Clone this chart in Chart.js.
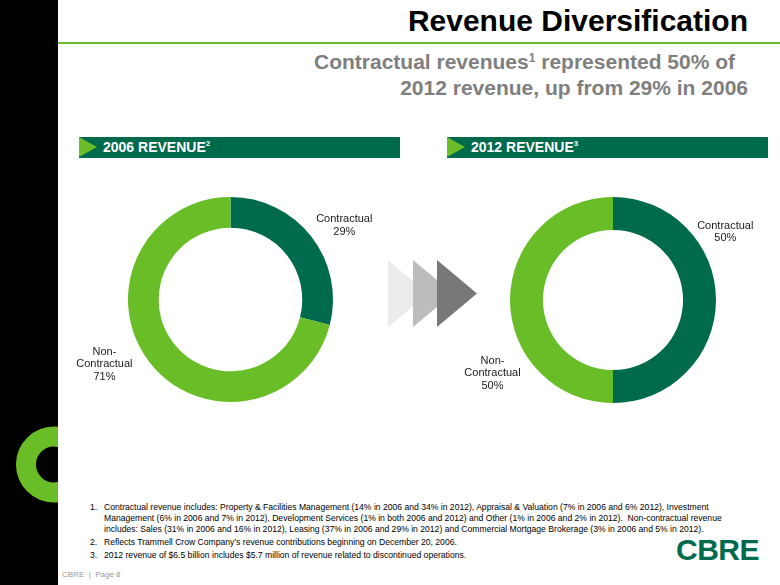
<!DOCTYPE html>
<html>
<head>
<meta charset="utf-8">
<script src="https://cdn.jsdelivr.net/npm/chart.js@4"></script>
<style>
  html, body { margin: 0; padding: 0; }
  body { width: 780px; height: 585px; position: relative; overflow: hidden; background: #fff;
         font-family: "Liberation Sans", Arial, sans-serif; }
  .abs { position: absolute; }
  #strip { left: 0; top: 0; width: 58px; height: 585px; background: #000; overflow: hidden; }
  #rule { left: 58px; top: 42px; width: 722px; height: 2px; background: #69be28; }
  #title { right: 32px; top: 4px; font-size: 30px; font-weight: bold; color: #000; white-space: nowrap; }
  .sub { font-size: 21px; font-weight: bold; color: #7f7f7f; white-space: nowrap; }
  .bar { top: 137px; height: 21px; width: 321px; background: #006a4d; }
  .bar .tri { position: absolute; left: 0; top: 0; width: 0; height: 0;
              border-top: 10.5px solid transparent; border-bottom: 10.5px solid transparent;
              border-left: 18px solid #69be28; }
  .bar span { position: absolute; left: 24px; top: 2px; font-size: 14px; font-weight: bold; color: #fff; white-space: nowrap; }
  .bar sup { font-size: 8px; vertical-align: 6px; line-height: 0; }
  #notes { left: 90px; top: 502px; font-size: 8.6px; line-height: 11px; color: #000; }
  #notes div { position: relative; padding-left: 14px; white-space: nowrap; }
  #notes div b { position: absolute; left: 0; font-weight: normal; }
  #footer { left: 62px; top: 570px; font-size: 8px; color: #9a9a9a; white-space: nowrap; }
  #logo { left: 676px; top: 533px; font-size: 30px; font-weight: bold; color: #006a4d; letter-spacing: -0.5px; }
</style>
</head>
<body>
<div id="strip" class="abs">
  <svg width="58" height="585">
    <circle cx="54" cy="464.5" r="28" fill="none" stroke="#69be28" stroke-width="20"/>
  </svg>
</div>
<div id="rule" class="abs"></div>
<div id="title" class="abs">Revenue Diversification</div>
<div class="abs sub" style="right:45px; top:50px;">Contractual revenues<sup style="font-size:12px; vertical-align:7px; line-height:0;">1</sup> represented 50% of</div>
<div class="abs sub" style="right:32px; top:76px;">2012 revenue, up from 29% in 2006</div>

<div class="abs bar" style="left:79px;"><div class="tri"></div><span>2006 REVENUE<sup>2</sup></span></div>
<div class="abs bar" style="left:447px;"><div class="tri"></div><span>2012 REVENUE<sup>3</sup></span></div>

<svg class="abs" style="left:380px; top:250px;" width="110" height="90">
  <polygon points="8,10 48,43.5 8,77" fill="#ececec"/>
  <polygon points="33,10 73,43.5 33,77" fill="#bcbcbc"/>
  <polygon points="57,10 97,43.5 57,77" fill="#787878"/>
</svg>

<div class="abs" style="left:60px; top:180px; width:340px; height:240px;"><canvas id="chart2006"></canvas></div>
<div class="abs" style="left:380px; top:180px; width:380px; height:240px;"><canvas id="chart2012"></canvas></div>

<div id="notes" class="abs">
  <div><b>1.</b>Contractual revenue includes: Property &amp; Facilities Management (14% in 2006 and 34% in 2012), Appraisal &amp; Valuation (7% in 2006 and 6% 2012), Investment<br>Management (6% in 2006 and 7% in 2012), Development Services (1% in both 2006 and 2012) and Other (1% in 2006 and 2% in 2012).&nbsp; Non-contractual revenue<br>includes: Sales (31% in 2006 and 16% in 2012), Leasing (37% in 2006 and 29% in 2012) and Commercial Mortgage Brokerage (3% in 2006 and 5% in 2012).</div>
  <div style="margin-top:2px;"><b>2.</b>Reflects Trammell Crow Company’s revenue contributions beginning on December 20, 2006.</div>
  <div style="margin-top:2px;"><b>3.</b>2012 revenue of $6.5 billion includes $5.7 million of revenue related to discontinued operations.</div>
</div>
<div id="footer" class="abs">CBRE&nbsp; |&nbsp; Page 8</div>
<div id="logo" class="abs">CBRE</div>

<script>
// Данные
const categories = ['Contractual', 'Non-Contractual'];
const revenue2006 = [29, 71];
const revenue2012 = [50, 50];
const sliceColors = ['#006a4d', '#69be28'];

// Подписи сегментов: позиция задаётся в долях внешнего радиуса от центра
const sliceLabels = {
    id: 'sliceLabels',
    afterDraw(chart, args, opts) {
        const ctx = chart.ctx;
        const meta = chart.getDatasetMeta(0);
        const values = chart.data.datasets[0].data;
        ctx.save();
        ctx.font = '11px "Liberation Sans", Arial, sans-serif';
        ctx.fillStyle = '#1a1a1a';
        ctx.textAlign = 'center';
        ctx.textBaseline = 'middle';
        meta.data.forEach((arc, i) => {
            const a = opts.anchors[i];
            const cx = arc.x + a[0] * arc.outerRadius;
            const cy = arc.y + a[1] * arc.outerRadius;
            const lines = chart.data.labels[i].replace('-', '-\n').split('\n');
            lines.push(values[i] + '%');
            const top = cy - (lines.length - 1) * 12.5 / 2;
            lines.forEach((t, k) => ctx.fillText(t, cx, top + k * 12.5));
        });
        ctx.restore();
    }
};

function makeDonut(id, values, cutout, padding, anchors) {
    return new Chart(document.getElementById(id), {
        type: 'doughnut',
        data: {
            labels: categories,
            datasets: [{
                data: values,
                backgroundColor: sliceColors,
                borderWidth: 0
            }]
        },
        options: {
            responsive: true,
            maintainAspectRatio: false,
            animation: false,
            cutout: cutout,
            layout: { padding: padding },
            plugins: {
                legend: { display: false },
                tooltip: { enabled: false },
                sliceLabels: { anchors: anchors }
            }
        },
        plugins: [sliceLabels]
    });
}

makeDonut('chart2006', revenue2006, '70%',
    { left: 68, right: 67, top: 17, bottom: 18 },
    [[1.11, -0.72], [-1.23, 0.63]]);
makeDonut('chart2012', revenue2012, '68%',
    { left: 130, right: 44, top: 17, bottom: 17 },
    [[1.09, -0.66], [-1.17, 0.71]]);
</script>
</body>
</html>
